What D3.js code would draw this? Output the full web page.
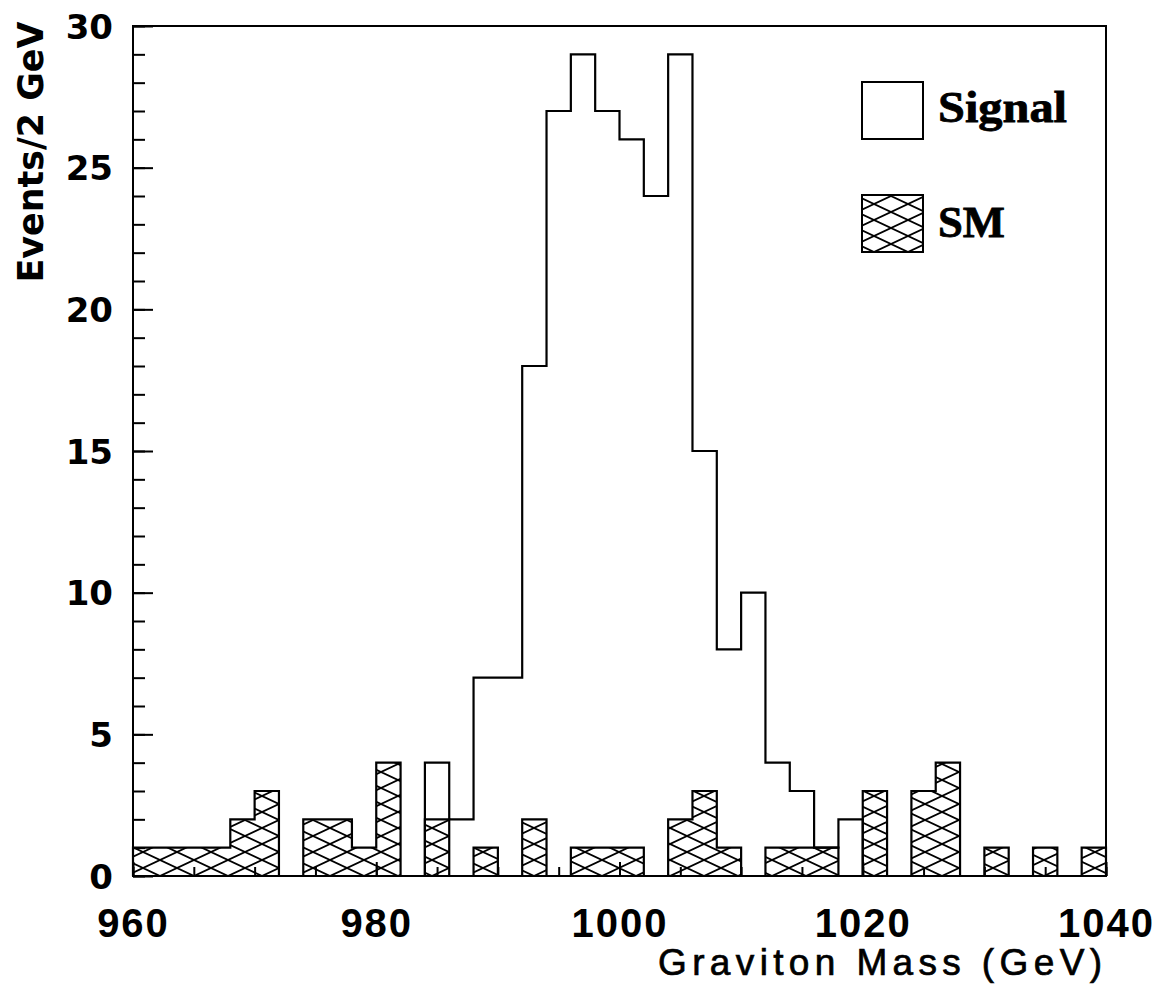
<!DOCTYPE html>
<html>
<head>
<meta charset="utf-8">
<script src="https://cdn.jsdelivr.net/npm/d3@7"></script>
<style>
  html, body { margin: 0; padding: 0; background: #fff; }
  svg { display: block; }
</style>
</head>
<body>
<svg id="chart" width="1160" height="984"></svg>
<script>
// ---- data ----
const binLow = [960,962,964,966,968,970,972,974,976,978,980,982,984,986,988,990,992,994,996,998,
                1000,1002,1004,1006,1008,1010,1012,1014,1016,1018,1020,1022,1024,1026,1028,1030,1032,1034,1036,1038];
const signal = [0,0,0,0,0,0,0,0,0,0,0,0,4,2,7,7,18,27,29,27,26,24,29,15,8,10,4,3,1,2,0,0,0,0,0,0,0,0,0,0];
const sm     = [1,1,1,1,2,3,0,2,2,1,4,0,2,0,1,0,2,0,1,1,1,0,2,3,1,0,1,1,1,0,3,0,3,4,0,1,0,1,0,1];
const binWidth = 2;
const xMajorTicks = [960, 980, 1000, 1020, 1040];
const xMinorTicks = [960,965,970,975,980,985,990,995,1000,1005,1010,1015,1020,1025,1030,1035,1040];
const yMajorTicks = [0, 5, 10, 15, 20, 25, 30];
const yMinorTicks = [0,1,2,3,4,5,6,7,8,9,10,11,12,13,14,15,16,17,18,19,20,21,22,23,24,25,26,27,28,29,30];
const legendItems = ["Signal", "SM"];
const xTitle = "Graviton Mass (GeV)";
const yTitle = "Events/2 GeV";

// ---- layout ----
const L = 133, R = 1106, T = 26, B = 876;
const svg = d3.select("#chart");
const x = d3.scaleLinear().domain([960, 1040]).range([L, R]);
const y = d3.scaleLinear().domain([0, 30]).range([B, T]);

// hatch pattern
const defs = svg.append("defs");
const pat = defs.append("pattern")
  .attr("id", "hatch").attr("patternUnits", "userSpaceOnUse")
  .attr("width", 34).attr("height", 16).attr("x", 160).attr("y", B);
pat.append("path").attr("d", "M-17,-8 L51,24 M-17,24 L51,-8")
  .attr("stroke", "#000").attr("stroke-width", 1.8).attr("fill", "none");

function stepPoints(vals) {
  const pts = [[binLow[0], 0]];
  vals.forEach((v, i) => pts.push([binLow[i], v]));
  pts.push([binLow[binLow.length - 1] + binWidth, 0]);
  return pts;
}
const line = d3.line().x(d => x(d[0])).y(d => y(d[1])).curve(d3.curveStepAfter);

// SM hatched histogram
svg.append("path").attr("d", line(stepPoints(sm)))
  .attr("fill", "url(#hatch)").attr("stroke", "#000").attr("stroke-width", 2.2);
// Signal outline histogram
svg.append("path").attr("d", line(stepPoints(signal)))
  .attr("fill", "none").attr("stroke", "#000").attr("stroke-width", 2.2);

// axes
const yMinor = svg.append("g").attr("transform", `translate(${L},0)`)
  .call(d3.axisLeft(y).tickValues(yMinorTicks).tickSize(-12).tickFormat(""));
const yMajor = svg.append("g").attr("transform", `translate(${L},0)`)
  .call(d3.axisLeft(y).tickValues(yMajorTicks).tickSize(-20).tickPadding(20).tickFormat(d3.format("d")));
const xMinor = svg.append("g").attr("transform", `translate(0,${B})`)
  .call(d3.axisBottom(x).tickValues(xMinorTicks).tickSize(-9).tickFormat(""));
const xMajor = svg.append("g").attr("transform", `translate(0,${B})`)
  .call(d3.axisBottom(x).tickValues(xMajorTicks).tickSize(-14).tickFormat(d3.format("d")));

[yMinor, yMajor, xMinor, xMajor].forEach(g => {
  g.select(".domain").remove();
  g.selectAll(".tick line").attr("stroke", "#000").attr("stroke-width", 2);
});
yMajor.selectAll(".tick text")
  .attr("font-family", "DejaVu Sans").attr("font-weight", "bold").attr("font-size", 34)
  .attr("fill", "#000").attr("dy", "0.36em");
xMajor.selectAll(".tick text")
  .attr("font-family", "Liberation Sans").attr("font-weight", "bold").attr("font-size", 40)
  .attr("letter-spacing", 2).attr("fill", "#000").attr("y", 61).attr("dy", 0);

// frame
svg.append("rect").attr("x", L).attr("y", T).attr("width", R - L).attr("height", B - T)
  .attr("fill", "none").attr("stroke", "#000").attr("stroke-width", 2);

// titles
svg.append("text").attr("x", 1102).attr("y", 975).attr("text-anchor", "end")
  .attr("font-family", "Liberation Sans").attr("font-size", 37)
  .attr("stroke", "#000").attr("stroke-width", 0.7)
  .attr("textLength", 444).attr("lengthAdjust", "spacing").text(xTitle);
svg.append("text").attr("transform", "translate(43,152) rotate(-90)").attr("text-anchor", "middle")
  .attr("font-family", "DejaVu Sans").attr("font-weight", "bold").attr("font-size", 35)
  .attr("textLength", 261).attr("lengthAdjust", "spacingAndGlyphs").text(yTitle);

// legend
const legY = [82, 195];
const legBaseline = [122, 237];
const legWidths = [129, 67];
legendItems.forEach((name, i) => {
  svg.append("rect").attr("x", 862).attr("y", legY[i]).attr("width", 61).attr("height", 57)
    .attr("fill", i === 0 ? "none" : "url(#hatch)").attr("stroke", "#000").attr("stroke-width", 2);
  svg.append("text").attr("x", 938).attr("y", legBaseline[i])
    .attr("font-family", "Liberation Serif").attr("font-weight", "bold").attr("font-size", 45)
    .attr("stroke", "#000").attr("stroke-width", 0.8)
    .attr("textLength", legWidths[i]).attr("lengthAdjust", "spacingAndGlyphs").text(name);
});
</script>
</body>
</html>
